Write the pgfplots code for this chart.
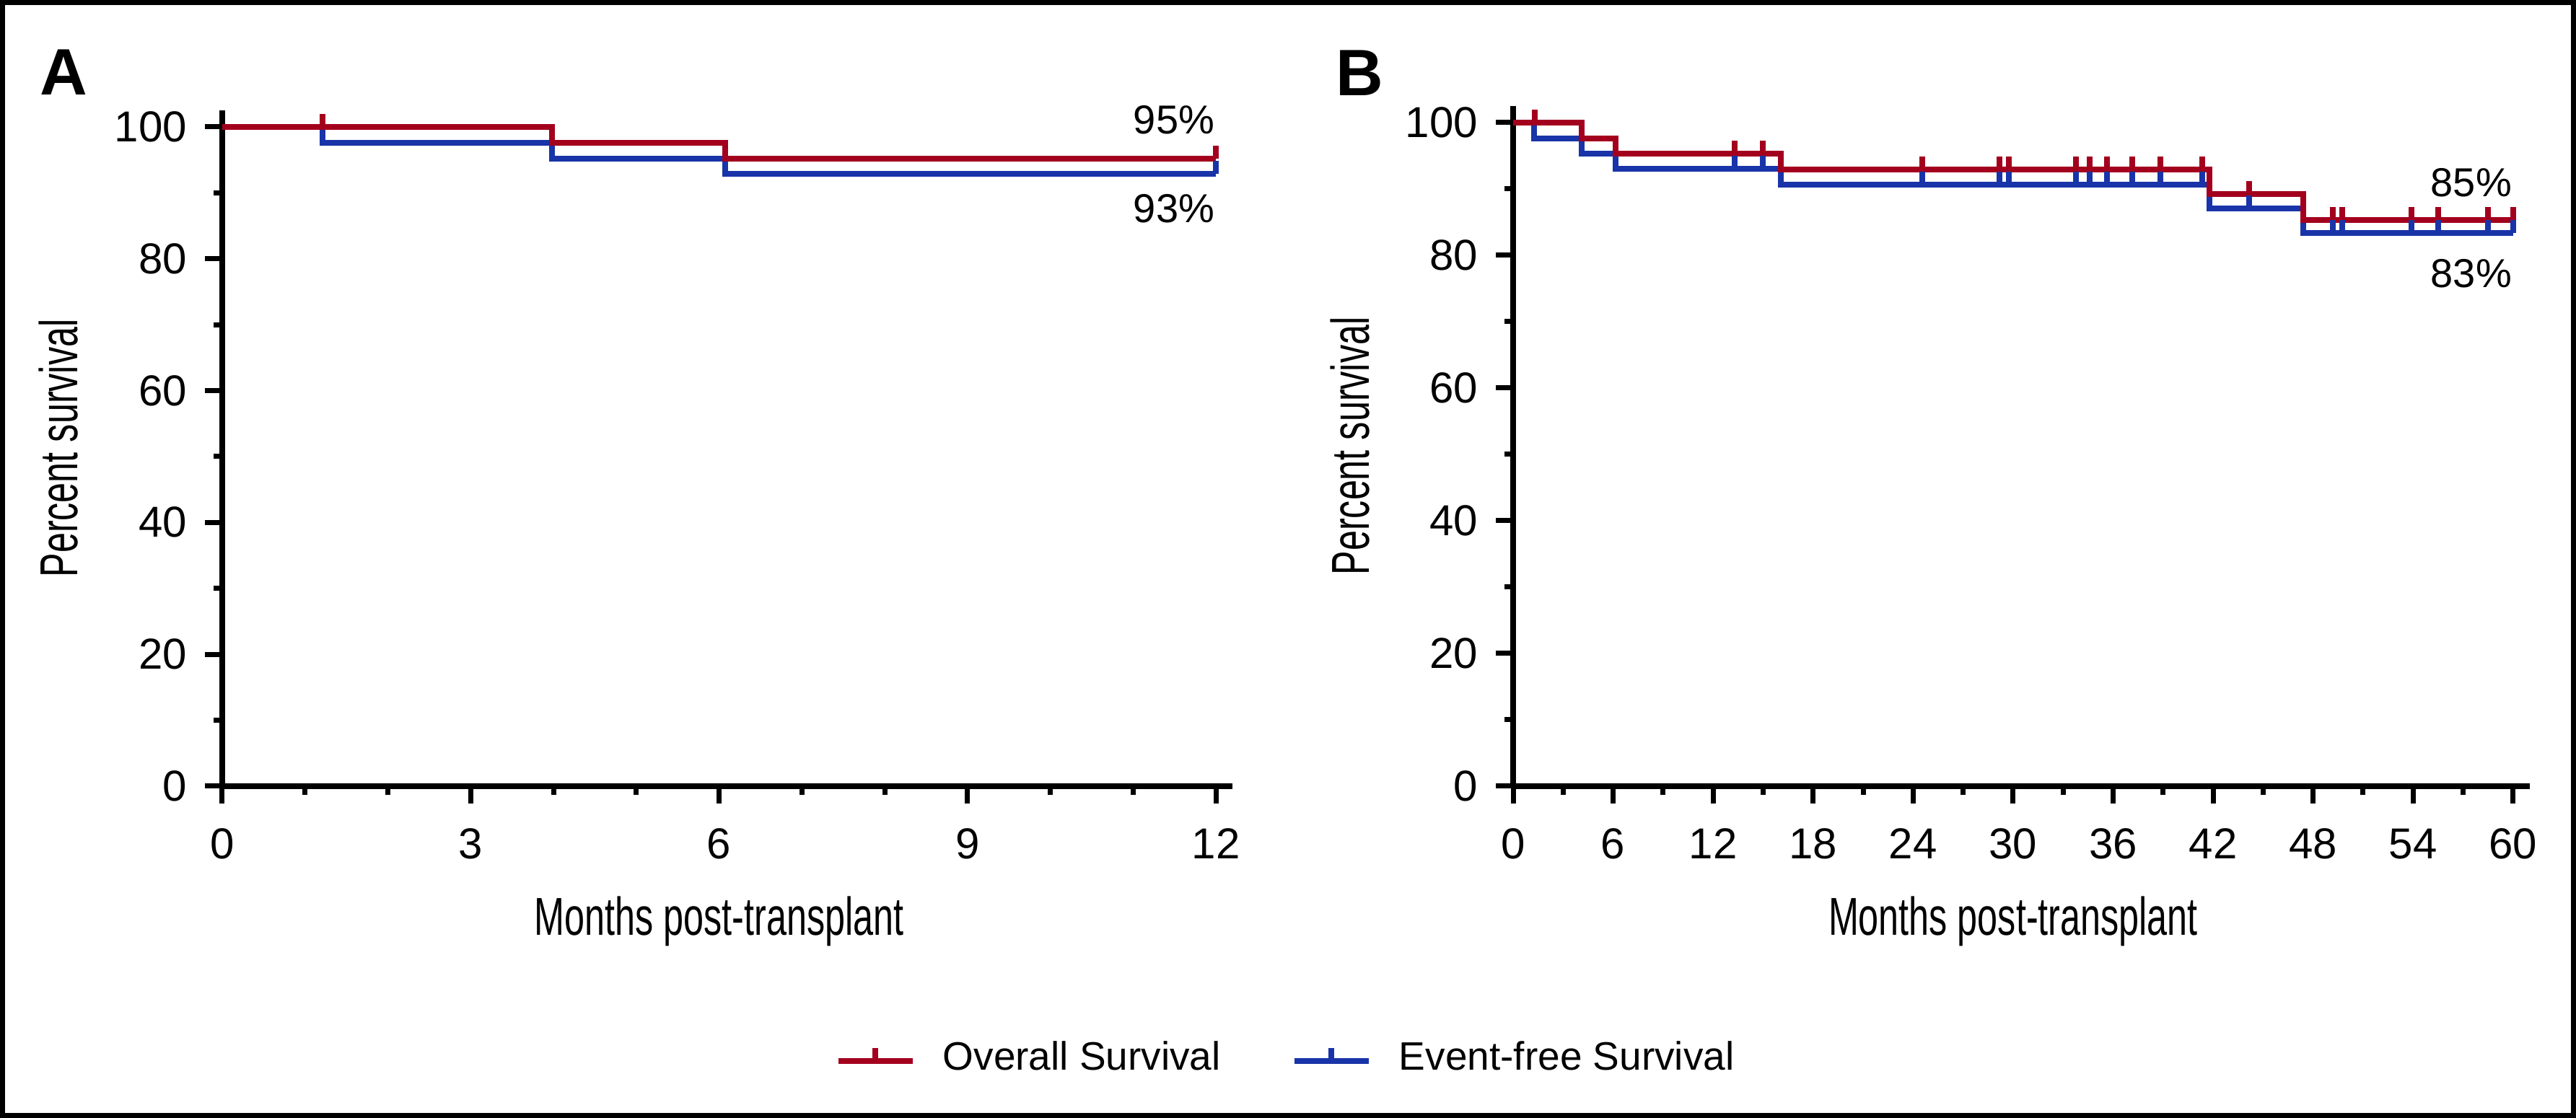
\documentclass[border=0pt]{standalone}
\usepackage{fontspec}
\setmainfont{Liberation Sans}
\newfontfamily\condensed{Liberation Sans}[FakeStretch=0.68]
\usepackage{pgfplots}
\pgfplotsset{compat=1.18}
\definecolor{osred}{RGB}{163,0,30}
\definecolor{efsblue}{RGB}{24,52,168}
\pgfdeclareplotmark{cens}{\pgfpathmoveto{\pgfqpoint{0pt}{0pt}}\pgfpathlineto{\pgfqpoint{0pt}{1.8pt}}\pgfusepathqstroke}
\tikzset{pct/.style={anchor=east, inner sep=0pt, font=\fontsize{5.6}{6.5}\selectfont}}
\pgfplotsset{
  kmaxis/.style={
    scale only axis, clip=false,
    xmin=0, ymin=0, ymax=102.5,
    axis x line*=bottom, axis y line*=left,
    axis line style={-, line width=0.8pt, black},
    tick align=outside,
    major tick length=2.4pt, minor tick length=1.2pt,
    every tick/.style={black, line width=0.7pt},
    ytick={0,20,40,60,80,100},
    minor ytick={10,30,50,70,90},
    tick label style={font=\fontsize{6}{7}\selectfont, inner sep=0pt},
    /pgf/number format/assume math mode=true,
    yticklabel style={anchor=east},
    xticklabel style={anchor=north},
    yticklabel shift=2.3pt,
    xticklabel shift=3.3pt,
    label style={font=\condensed\fontsize{7.4}{9}\selectfont, inner sep=0pt},
    xlabel={Months post-transplant},
    ylabel={Percent survival},
    xlabel style={at={(axis description cs:0.4918,0)}, anchor=north, yshift=-15.1pt},
    ylabel style={anchor=south},
    legend image code/.code={
      \draw[#1, line width=0.8pt] (0pt,0pt) -- (10.3pt,0pt);
      \draw[#1, line width=0.8pt] (5.15pt,0pt) -- (5.15pt,1.8pt);
    },
  },
  os/.style={osred, line width=0.8pt, const plot, mark=none, forget plot},
  efs/.style={efsblue, line width=0.8pt, const plot, mark=none, forget plot},
  oscens/.style={osred, only marks, mark=cens, mark options={solid, line width=0.8pt}, forget plot},
  efscens/.style={efsblue, only marks, mark=cens, mark options={solid, line width=0.8pt}, forget plot},
}
\begin{document}
\begin{tikzpicture}
\useasboundingbox (0pt,0pt) rectangle (357pt,155pt);
\draw[line width=0.7pt] (0.35pt,0.35pt) rectangle (356.65pt,154.65pt);
\node[anchor=north west, inner sep=0pt, font=\bfseries\fontsize{9.1}{10}\selectfont] at (5.4pt,148.3pt) {A};
\node[anchor=north west, inner sep=0pt, font=\bfseries\fontsize{9.1}{10}\selectfont] at (185.0pt,148.2pt) {B};

\begin{axis}[kmaxis, at={(30.8pt,46.0pt)}, anchor=south west, width=140pt, height=93.7pt,
  xmax=12.2, xtick={0,3,6,9,12}, minor xtick={1,2,4,5,7,8,10,11},
  ylabel style={at={(axis description cs:-0.1414,0.5)}},
  legend columns=2, legend cell align=left,
  legend style={at={(axis description cs:0.6070,-0.4066)}, anchor=west, draw=none, fill=none,
    inner sep=0pt, outer sep=0pt, row sep=0pt, nodes={inner sep=0pt},
    font=\fontsize{5.5}{6.5}\selectfont,
    /tikz/every odd column/.append style={column sep=3.8pt},
    /tikz/every even column/.append style={column sep=9.8pt}},
]
\addplot[efs] coordinates {(0,100) (1.21,97.6) (3.98,95.2) (6.07,92.9) (12,92.9)};
\addplot[efscens] coordinates {(12,92.9)};
\addplot[os] coordinates {(0,100) (3.98,97.6) (6.07,95.2) (12,95.2)};
\addplot[oscens] coordinates {(1.21,100) (12,95.2)};
\addlegendimage{osred}
\addlegendentry{Overall Survival}
\addlegendimage{efsblue}
\addlegendentry{Event-free Survival}
\node[pct] at (axis cs:12,101.1) {95\%};
\node[pct] at (axis cs:12,87.6) {93\%};
\end{axis}

\begin{axis}[kmaxis, at={(209.7pt,46.0pt)}, anchor=south west, width=140.9pt, height=94.3pt,
  xmax=61, xtick={0,6,...,60}, minor xtick={3,9,...,57},
  ylabel style={at={(axis description cs:-0.1398,0.5)}},
  xlabel style={at={(axis description cs:0.4918,0)}},
]
\addplot[efs] coordinates {(0,100) (1.25,97.6) (4.1,95.3) (6.15,93.0) (16.05,90.7) (41.8,87.1) (47.4,83.4) (60,83.4)};
\addplot[efscens] coordinates {(13.3,93.0) (15.0,93.0) (24.55,90.7) (29.2,90.7) (29.75,90.7) (33.75,90.7) (34.6,90.7) (35.65,90.7) (37.15,90.7) (38.85,90.7) (41.35,90.7) (44.15,87.1) (49.2,83.4) (49.75,83.4) (53.9,83.4) (55.5,83.4) (58.5,83.4) (60,83.4)};
\addplot[os] coordinates {(0,100) (4.1,97.6) (6.15,95.3) (16.05,92.9) (41.8,89.2) (47.4,85.3) (60,85.3)};
\addplot[oscens] coordinates {(1.3,100) (13.3,95.3) (15.0,95.3) (24.55,92.9) (29.2,92.9) (29.75,92.9) (33.75,92.9) (34.6,92.9) (35.65,92.9) (37.15,92.9) (38.85,92.9) (41.35,92.9) (44.15,89.2) (49.2,85.3) (49.75,85.3) (53.9,85.3) (55.5,85.3) (58.5,85.3) (60,85.3)};
\node[pct] at (axis cs:60,91.0) {85\%};
\node[pct] at (axis cs:60,77.3) {83\%};
\end{axis}
\end{tikzpicture}
\end{document}
